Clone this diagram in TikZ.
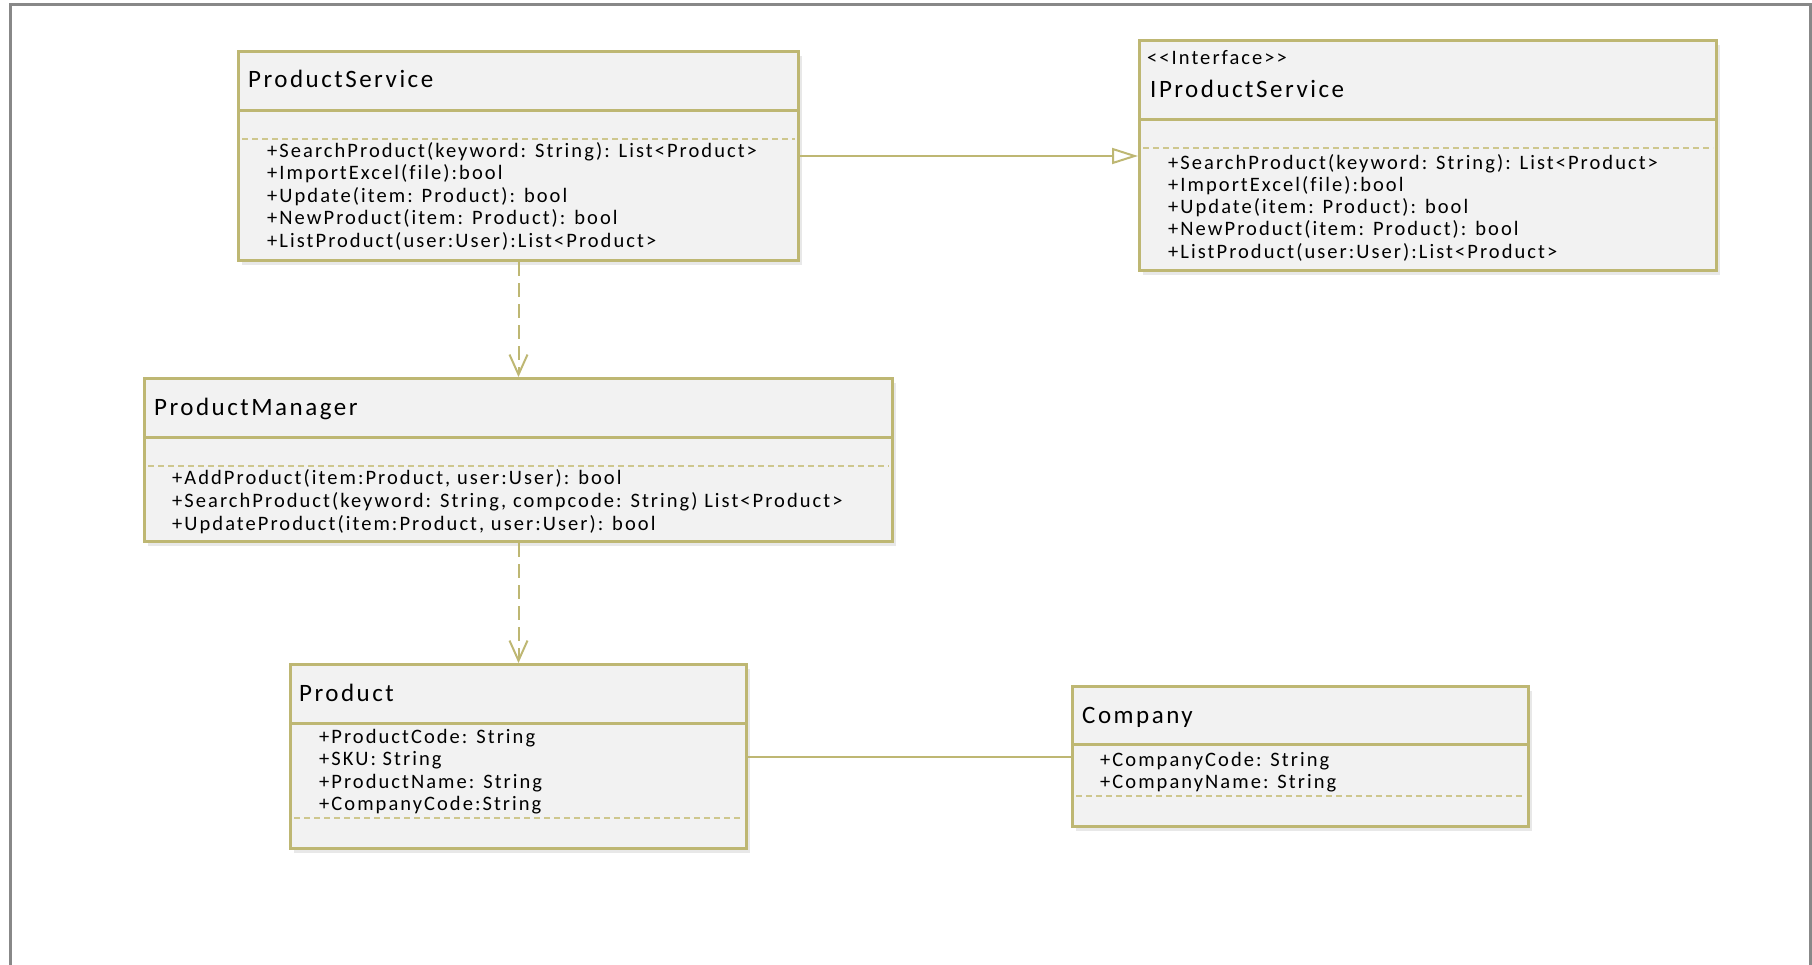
\documentclass[tikz,border=0pt]{standalone}
\usepackage{fontspec}
\setmainfont{Carlito}[LetterSpace=10, Ligatures={NoCommon}]
\usetikzlibrary{arrows.meta,positioning,calc,shadows}

\definecolor{umlborder}{RGB}{190,183,115}
\definecolor{umlfill}{RGB}{242,242,242}
\definecolor{umldash}{RGB}{206,199,142}
\definecolor{framegray}{RGB}{136,136,136}

\tikzset{
  classbox/.style={draw=umlborder, line width=3pt, fill=umlfill, anchor=north west,
    inner sep=0pt, drop shadow={opacity=0.18, shadow xshift=3pt, shadow yshift=-4pt}},
  headline/.style={draw=umlborder, line width=3pt},
  splitline/.style={draw=umldash, line width=1.6pt, dash pattern=on 6pt off 4pt},
  classname/.style={anchor=base west, inner sep=0pt, font=\fontsize{25}{29}\selectfont},
  stereo/.style={anchor=base west, inner sep=0pt, font=\fontsize{20.5}{23}\selectfont},
  member/.style={anchor=base west, inner sep=0pt, font=\fontsize{20.5}{23}\selectfont},
  realize/.style={draw=umlborder, line width=2pt, -{Triangle[open, length=26pt, width=16pt]}},
  depend/.style={draw=umlborder, line width=2pt, dash pattern=on 14pt off 7pt,
    -{Straight Barb[length=20pt, width=18pt]}},
  assoc/.style={draw=umlborder, line width=2pt}
}

\begin{document}
\begin{tikzpicture}[x=1pt, y=-1pt]
    \useasboundingbox (0,0) rectangle (1812,964);

    % Page frame (open at the bottom)
    \draw[framegray, line width=3pt] (10,966) -- (10,4.5) -- (1810.5,4.5) -- (1810.5,966);

    % ProductService
    \node[classbox, minimum width=560pt, minimum height=209pt] (ps) at (237,50) {};
    \draw[headline] ($(ps.north west)+(0,60)$) -- ($(ps.north east)+(0,60)$);
    \draw[splitline] ($(ps.north west)+(5,89)$) -- ($(ps.north east)+(-5,89)$);
    \node[classname] (ps-name) at (248,87) {ProductService};
    \foreach \txt [count=\i from 0] in {
        {+SearchProduct(keyword: String): List<Product>},
        {+ImportExcel(file):bool},
        {+Update(item: Product): bool},
        {+NewProduct(item: Product): bool},
        {+ListProduct(user:User):List<Product>}}
      \node[member] (ps-m\i) at (267,157+22.5*\i) {\txt};

    % IProductService
    \node[classbox, minimum width=577pt, minimum height=230pt] (ips) at (1138,39) {};
    \draw[headline] ($(ips.north west)+(0,80)$) -- ($(ips.north east)+(0,80)$);
    \draw[splitline] ($(ips.north west)+(5,109)$) -- ($(ips.north east)+(-5,109)$);
    \node[stereo] (ips-stereo) at (1147,64) {<{}<Interface>{}>};
    \node[classname] (ips-name) at (1150,97) {IProductService};
    \foreach \txt [count=\i from 0] in {
        {+SearchProduct(keyword: String): List<Product>},
        {+ImportExcel(file):bool},
        {+Update(item: Product): bool},
        {+NewProduct(item: Product): bool},
        {+ListProduct(user:User):List<Product>}}
      \node[member] (ips-m\i) at (1168,169+22.3*\i) {\txt};

    % ProductManager
    \node[classbox, minimum width=748pt, minimum height=163pt] (pm) at (143,377) {};
    \draw[headline] ($(pm.north west)+(0,60)$) -- ($(pm.north east)+(0,60)$);
    \draw[splitline] ($(pm.north west)+(5,89)$) -- ($(pm.north east)+(-5,89)$);
    \node[classname] (pm-name) at (154,415) {ProductManager};
    \foreach \txt [count=\i from 0] in {
        {+AddProduct(item:Product, user:User): bool},
        {+SearchProduct(keyword: String, compcode: String) List<Product>},
        {+UpdateProduct(item:Product, user:User): bool}}
      \node[member] (pm-m\i) at (172,484+23.3*\i) {\txt};

    % Product
    \node[classbox, minimum width=456pt, minimum height=184pt] (prod) at (289,663) {};
    \draw[headline] ($(prod.north west)+(0,60)$) -- ($(prod.north east)+(0,60)$);
    \draw[splitline] ($(prod.north west)+(5,155)$) -- ($(prod.north east)+(-5,155)$);
    \node[classname] (prod-name) at (299,701) {Product};
    \foreach \txt [count=\i from 0] in {
        {+ProductCode: String},
        {+SKU: String},
        {+ProductName: String},
        {+CompanyCode:String}}
      \node[member] (prod-m\i) at (319,743+22.6*\i) {\txt};

    % Company
    \node[classbox, minimum width=456pt, minimum height=140pt] (comp) at (1071,685) {};
    \draw[headline] ($(comp.north west)+(0,59)$) -- ($(comp.north east)+(0,59)$);
    \draw[splitline] ($(comp.north west)+(5,111)$) -- ($(comp.north east)+(-5,111)$);
    \node[classname] (comp-name) at (1082,723) {Company};
    \foreach \txt [count=\i from 0] in {
        {+CompanyCode: String},
        {+CompanyName: String}}
      \node[member] (comp-m\i) at (1100,766+22.4*\i) {\txt};

    % Relations
    \draw[realize] (ps.east) -- (ps.east -| ips.west);
    \draw[depend] (ps.south) -- (pm.north);
    \draw[depend] (pm.south) -- (prod.north);
    \draw[assoc] (prod.east) -- (prod.east -| comp.west);
\end{tikzpicture}
\end{document}
